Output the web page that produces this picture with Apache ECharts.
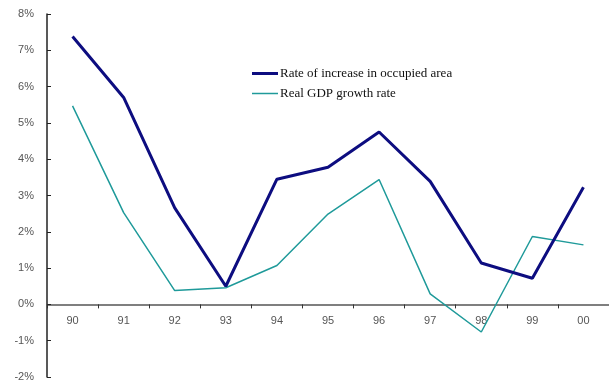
<!DOCTYPE html>
<html>
<head>
<meta charset="utf-8">
<script src="https://cdn.jsdelivr.net/npm/echarts@6/dist/echarts.min.js"></script>
<style>
  html, body { margin: 0; padding: 0; background: #ffffff; }
  #chart { width: 609px; height: 386px; }
</style>
</head>
<body>
<div id="chart"></div>
<script>
// Fiscal years (two-digit)
const years = ['90', '91', '92', '93', '94', '95', '96', '97', '98', '99', '00'];
// Annual rates, percent
const occupiedAreaRate = [7.38, 5.70, 2.66, 0.50, 3.45, 3.78, 4.75, 3.39, 1.14, 0.72, 3.23];
const realGdpGrowth = [5.47, 2.53, 0.38, 0.46, 1.07, 2.49, 3.44, 0.29, -0.76, 1.87, 1.64];
const seriesNames = ['Rate of increase in occupied area', 'Real GDP growth rate'];
const yMin = -2, yMax = 8, yStep = 1;

const navy = '#0d0d80';
const teal = '#1f9a9a';
const labelFont = '"Liberation Sans Narrow", "Liberation Sans", Arial, sans-serif';
const legendFont = '"Liberation Serif", "Times New Roman", serif';

// plot area geometry
const gridTop = 14, gridHeight = 363;
// place the category axis on the 0% line
const zeroOffset = -gridHeight * (0 - yMin) / (yMax - yMin);

const chart = echarts.init(document.getElementById('chart'), null, { renderer: 'canvas' });

const legendText = { fontFamily: legendFont, fontSize: 13, color: '#111', padding: [0, 0, 0, -3] };

chart.setOption({
  backgroundColor: '#ffffff',
  animation: false,
  grid: { left: 47, top: gridTop, width: 564, height: gridHeight, containLabel: false },
  legend: [
    {
      data: [seriesNames[0]],
      left: 247, top: 62,
      itemWidth: 26, itemHeight: 3, icon: 'rect',
      textStyle: legendText
    },
    {
      data: [seriesNames[1]],
      left: 247, top: 82,
      itemWidth: 26, itemHeight: 1.5, icon: 'rect',
      textStyle: legendText
    }
  ],
  xAxis: {
    type: 'category',
    data: years,
    boundaryGap: true,
    position: 'bottom',
    offset: zeroOffset,
    axisLine: { onZero: false, lineStyle: { color: '#555', width: 1.5 } },
    axisTick: { show: true, inside: false, length: 4, lineStyle: { color: '#333', width: 1 } },
    axisLabel: { margin: 11, color: '#555', fontSize: 11, fontFamily: labelFont }
  },
  yAxis: {
    type: 'value',
    min: yMin, max: yMax, interval: yStep,
    axisLine: { show: true, lineStyle: { color: '#222', width: 1.5 } },
    axisTick: { show: true, inside: true, length: 4, lineStyle: { color: '#222', width: 1 } },
    axisLabel: {
      margin: 13, color: '#555', fontSize: 11, fontFamily: labelFont,
      padding: [6, 0, 0, 0],
      formatter: '{value}%'
    },
    splitLine: { show: false }
  },
  series: [
    {
      name: seriesNames[0],
      type: 'line',
      data: occupiedAreaRate,
      symbol: 'none',
      color: navy,
      lineStyle: { color: navy, width: 3 },
      z: 3
    },
    {
      name: seriesNames[1],
      type: 'line',
      data: realGdpGrowth,
      symbol: 'none',
      color: teal,
      lineStyle: { color: teal, width: 1.5 },
      z: 2
    }
  ]
});
</script>
</body>
</html>
